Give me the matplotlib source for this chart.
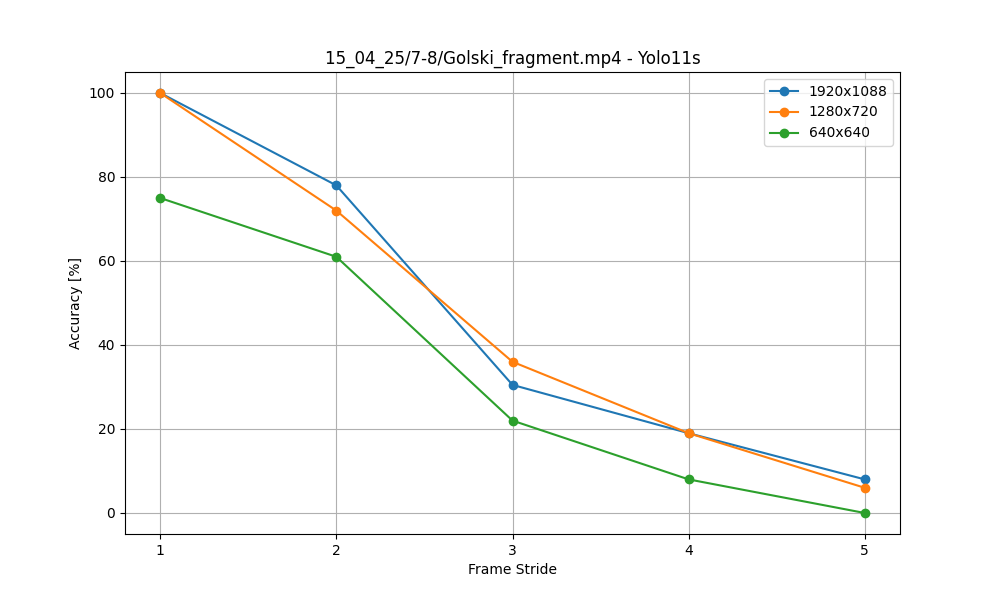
import matplotlib
matplotlib.use("Agg")
import matplotlib.pyplot as plt

strides = [1, 2, 3, 4, 5]
acc_1920 = [100, 78, 30.5, 19, 8]
acc_1280 = [100, 72, 36, 19, 6]
acc_640 = [75, 61, 22, 8, 0]

fig, ax = plt.subplots(figsize=(10, 6), dpi=100)
ax.plot(strides, acc_1920, marker="o", label="1920x1088")
ax.plot(strides, acc_1280, marker="o", label="1280x720")
ax.plot(strides, acc_640, marker="o", label="640x640")
ax.set_xticks(strides)
ax.set_xlabel("Frame Stride")
ax.set_ylabel("Accuracy [%]")
ax.set_title("15_04_25/7-8/Golski_fragment.mp4 - Yolo11s")
ax.grid(True)
ax.legend()
fig.savefig("out.png")
